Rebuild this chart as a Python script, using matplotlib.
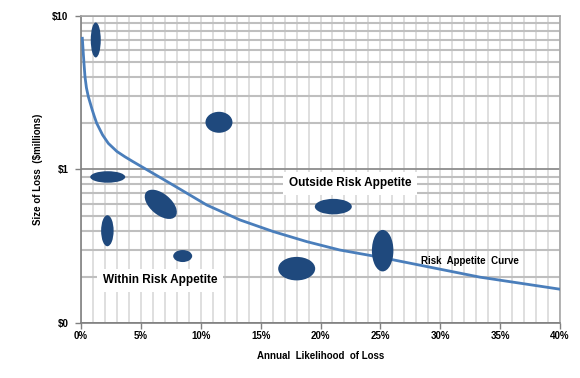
import matplotlib
matplotlib.use('Agg')
import matplotlib.pyplot as plt
from matplotlib.patches import Ellipse
from matplotlib.transforms import ScaledTranslation
from matplotlib.ticker import LogLocator, MultipleLocator, NullFormatter
import numpy as np

plt.rcParams['font.family'] = ['Liberation Sans', 'DejaVu Sans']

# risk appetite curve (likelihood %, loss $m)
curve_x = [0.11, 0.19, 0.25, 0.33, 0.45, 0.61, 0.94, 1.1, 1.31, 1.8, 2.28, 3.0,
           3.67, 4.3, 5.0, 7.71, 10.5, 13.28, 16.06, 18.85, 21.6, 25.0, 33.3, 40.0]
curve_y = [7.16, 5.71, 4.88, 4.03, 3.41, 2.98, 2.44, 2.23, 2.0, 1.68, 1.48, 1.31,
           1.21, 1.13, 1.05, 0.79, 0.587, 0.469, 0.394, 0.339, 0.299, 0.268, 0.199, 0.166]

# risks (centre likelihood %, centre loss $m)
risk_x = [1.23, 11.52, 2.23, 6.66, 2.20, 8.49, 18.01, 21.07, 25.19]
risk_y = [6.98, 2.03, 0.894, 0.593, 0.399, 0.273, 0.226, 0.573, 0.296]

x_ticks = [0, 5, 10, 15, 20, 25, 30, 35, 40]
x_labels = ['0%', '5%', '10%', '15%', '20%', '25%', '30%', '35%', '40%']
y_ticks = [0.1, 1, 10]
y_labels = ['$0', '$1', '$10']

# blob shapes in pixels (width, height, angle)
shapes = [(10, 35, 0), (27, 21, 0), (35, 11.5, 0), (38, 21, -40), (12.5, 31, 0),
          (19, 12, 0), (37, 23.5, 0), (37, 15.5, 0), (21.5, 41.5, 0)]

fig = plt.figure(figsize=(5.8, 3.78), dpi=100)
ax = fig.add_axes([0.1397, 0.1455, 0.8258, 0.8122])

ax.set_yscale('log')
ax.set_xlim(0, 40)
ax.set_ylim(0.1, 10)

ax.xaxis.set_minor_locator(MultipleLocator(1))
ax.yaxis.set_minor_locator(LogLocator(subs=np.arange(2, 10)))
ax.yaxis.set_minor_formatter(NullFormatter())
ax.set_xticks(x_ticks)
ax.set_xticklabels(x_labels)
ax.set_yticks(y_ticks)
ax.set_yticklabels(y_labels)

ax.grid(True, axis='x', which='both', color='#d9d9d9', lw=1.2, zorder=0)
ax.grid(True, axis='y', which='minor', color='#bfbfbf', lw=1.5, zorder=0)
ax.grid(True, axis='y', which='major', color='#8c8c8c', lw=1.3, zorder=0)
ax.set_axisbelow(True)

ax.tick_params(which='minor', length=0)
ax.tick_params(which='major', direction='out', length=4, width=1, color='#808080',
               labelsize=7)
for lab in ax.get_xticklabels() + ax.get_yticklabels():
    lab.set_fontweight('bold')
ax.tick_params(axis='x', pad=2)
ax.tick_params(axis='y', pad=5)

ax.spines['left'].set_color('#808080')
ax.spines['bottom'].set_color('#808080')
ax.spines['right'].set_color('#a6a6a6')
ax.spines['top'].set_color('#a6a6a6')
for s in ax.spines.values():
    s.set_linewidth(1.2)

ax.plot(curve_x, curve_y, color='#4a7ebb', lw=2, zorder=3, solid_joinstyle='round')

for cx, cy, (w, h, ang) in zip(risk_x, risk_y, shapes):
    tr = fig.dpi_scale_trans + ScaledTranslation(cx, cy, ax.transData)
    ax.add_patch(Ellipse((0, 0), w / 100, h / 100, angle=ang, transform=tr,
                         facecolor='#1f497d', edgecolor='none', zorder=4))

ax.text(22.46, 0.816, 'Outside Risk Appetite', ha='center', va='center',
        fontsize=8.5, fontweight='bold', zorder=2,
        bbox=dict(facecolor='white', edgecolor='none', pad=4))
ax.text(6.6, 0.19, 'Within Risk Appetite', ha='center', va='center',
        fontsize=8.5, fontweight='bold', zorder=2,
        bbox=dict(facecolor='white', edgecolor='none', pad=4))
ax.text(28.4, 0.252, 'Risk  Appetite  Curve', ha='left', va='center',
        fontsize=7, fontweight='bold', zorder=5)

ax.set_xlabel('Annual  Likelihood  of Loss', fontsize=7, fontweight='bold', labelpad=7)
ax.set_ylabel('Size of Loss  ($millions)', fontsize=7, fontweight='bold', labelpad=7)

fig.savefig('out.png', dpi=100)
